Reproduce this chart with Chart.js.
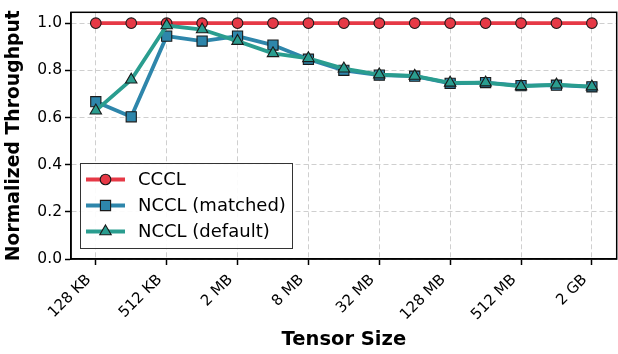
<!DOCTYPE html>
<html>
<head>
<meta charset="utf-8">
<script src="https://cdn.jsdelivr.net/npm/chart.js@4/dist/chart.umd.min.js"></script>
<style>
html,body{margin:0;padding:0;background:#fff;overflow:hidden;}
#wrap{width:625px;height:354px;position:relative;}
</style>
</head>
<body>
<div id="wrap"><canvas id="c" width="625" height="354"></canvas></div>
<script>
const categories = ['128 KB','256 KB','512 KB','1 MB','2 MB','4 MB','8 MB','16 MB','32 MB','64 MB','128 MB','256 MB','512 MB','1 GB','2 GB'];
const tickEvery = 2;
const yTicks = [0.0, 0.2, 0.4, 0.6, 0.8, 1.0];
const cccl =    [1.0, 1.0, 1.0, 1.0, 1.0, 1.0, 1.0, 1.0, 1.0, 1.0, 1.0, 1.0, 1.0, 1.0, 1.0];
const matched = [0.667, 0.603, 0.945, 0.924, 0.945, 0.907, 0.847, 0.800, 0.780, 0.775, 0.745, 0.748, 0.735, 0.737, 0.730];
const deflt =   [0.629, 0.760, 0.990, 0.973, 0.924, 0.872, 0.851, 0.807, 0.782, 0.776, 0.747, 0.748, 0.732, 0.739, 0.731];
const seriesNames = ['CCCL', 'NCCL (matched)', 'NCCL (default)'];

const colors = ['#e63946', '#2e86ab', '#2a9d8f'];
const shapes = ['circle', 'rect', 'triangle'];
const radii = [5.3, 7.2, 6.6];
const FONT = "'DejaVu Sans', sans-serif";

function toPts(arr){ return arr.map((v,i)=>({x:i, y:v})); }

const datasets = [cccl, matched, deflt].map((arr, k) => ({
  label: seriesNames[k],
  data: toPts(arr),
  borderColor: colors[k],
  backgroundColor: colors[k],
  pointBackgroundColor: colors[k],
  pointBorderColor: '#1a1a1a',
  pointBorderWidth: 1.1,
  pointStyle: shapes[k],
  pointRadius: radii[k],
  borderWidth: 3.8,
  tension: 0,
  order: 3 - k
}));

const frameAndLegend = {
  id: 'frameAndLegend',
  afterDatasetsDraw(chart){
    const ctx = chart.ctx, a = chart.chartArea;
    ctx.save();
    ctx.strokeStyle = '#000';
    ctx.lineWidth = 1.5;
    ctx.strokeRect(a.left, a.top, a.right - a.left, a.bottom - a.top);
    // legend
    const bx = 80.5, by = 163.5, bw = 212, bh = 85;
    ctx.fillStyle = 'rgba(255,255,255,0.9)';
    ctx.fillRect(bx, by, bw, bh);
    ctx.strokeStyle = '#333';
    ctx.lineWidth = 1;
    ctx.strokeRect(bx, by, bw, bh);
    const rows = [179.5, 205.5, 231.5];
    seriesNames.forEach((name, k) => {
      const y = rows[k];
      ctx.strokeStyle = colors[k];
      ctx.lineWidth = 3.8;
      ctx.beginPath(); ctx.moveTo(86, y); ctx.lineTo(125, y); ctx.stroke();
      ctx.fillStyle = colors[k];
      ctx.strokeStyle = '#1a1a1a';
      ctx.lineWidth = 1.1;
      Chart.helpers.drawPoint(ctx, {pointStyle: shapes[k], radius: radii[k], rotation: 0, borderWidth: 1.1}, 105.5, y);
      ctx.fillStyle = '#000';
      ctx.font = '18px ' + FONT;
      ctx.textBaseline = 'middle';
      ctx.textAlign = 'left';
      ctx.fillText(name, 138, y + 1);
    });
    ctx.restore();
  }
};

new Chart(document.getElementById('c'), {
  type: 'line',
  data: { datasets },
  options: {
    responsive: false,
    animation: false,
    layout: { padding: { top: 11, right: 4, left: 0, bottom: 0 } },
    plugins: { legend: { display: false }, tooltip: { enabled: false } },
    scales: {
      x: {
        type: 'linear',
        min: -0.7,
        max: categories.length - 1 + 0.7,
        afterBuildTicks(scale){
          scale.ticks = categories.map((c,i)=>i).filter(i => i % tickEvery === 0).map(v => ({value: v}));
        },
        afterFit(scale){ scale.height = 95; },
        ticks: {
          autoSkip: false,
          maxRotation: 45, minRotation: 45,
          color: '#000',
          padding: 6,
          labelOffset: -7,
          font: { family: FONT, size: 15 },
          callback: (v) => categories[v]
        },
        grid: { color: '#cfcfcf', lineWidth: 1, tickColor: '#000', tickLength: 6, tickWidth: 1.5 },
        border: { display: true, color: '#000', width: 1.5, dash: [5, 3] },
        title: { display: true, text: 'Tensor Size', color: '#000', font: { family: FONT, size: 19.5, weight: 'bold' }, padding: { top: 0, bottom: 2 } }
      },
      y: {
        min: 0, max: 1.046,
        afterBuildTicks(scale){ scale.ticks = yTicks.map(v => ({value: v})); },
        afterFit(scale){ scale.width = 71; },
        ticks: {
          color: '#000',
          padding: 3,
          font: { family: FONT, size: 15.5 },
          callback: (v) => v.toFixed(1)
        },
        grid: { color: '#cfcfcf', lineWidth: 1, tickColor: '#000', tickLength: 6, tickWidth: 1.5 },
        border: { display: true, color: '#000', width: 1.5, dash: [5, 3] },
        title: { display: true, text: 'Normalized Throughput', color: '#000', font: { family: FONT, size: 18.8, weight: 'bold' }, padding: { top: 3, bottom: 0 } }
      }
    }
  },
  plugins: [frameAndLegend]
});
</script>
</body>
</html>
